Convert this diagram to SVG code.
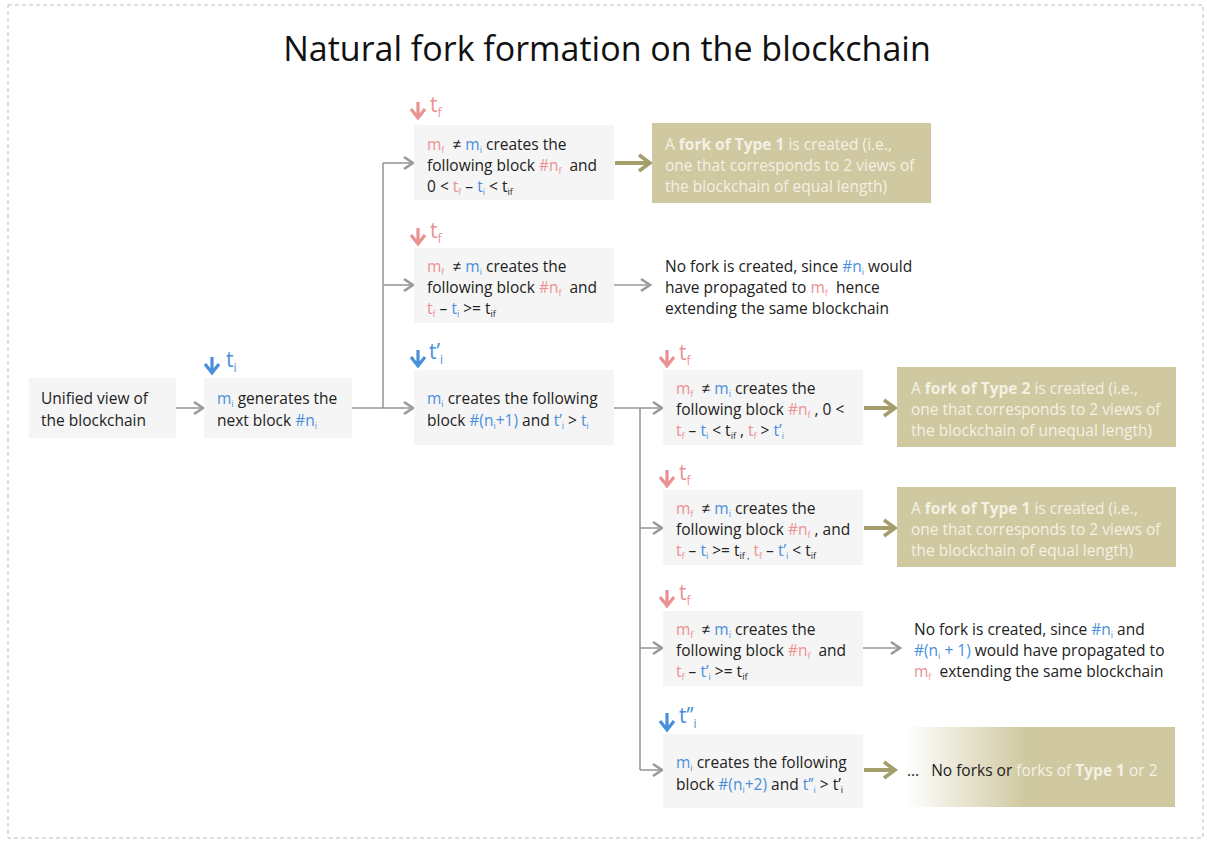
<svg xmlns="http://www.w3.org/2000/svg" width="1207" height="841" viewBox="0 0 1207 841">
<defs>
<style>
.t{font-family:"Open Sans","Liberation Sans",Arial,sans-serif;font-size:15.5px;fill:#222}
.w{fill:#f4f1e4}
.p{fill:#ec9191}
.b{fill:#4a8fdc}
.box{fill:#f5f5f5}
.tan{fill:#cfc8a0}
.con{fill:none;stroke:#9a9a9a;stroke-width:1.6}
.ol{fill:none;stroke:#a39e6a;stroke-width:4}
.tm{font-family:"Open Sans","Liberation Sans",Arial,sans-serif;font-size:21px}
.mkp{fill:none;stroke:#ec9191;stroke-width:3.2}
.mkb{fill:none;stroke:#4a8fdc;stroke-width:3.2}
</style>
<marker id="ag" markerWidth="16" markerHeight="16" refX="13" refY="8" orient="auto" markerUnits="userSpaceOnUse"><path d="M4,2 L13,8 L4,14" fill="none" stroke="#9a9a9a" stroke-width="2.6"/></marker>
<marker id="ao" markerWidth="20" markerHeight="20" refX="16" refY="10" orient="auto" markerUnits="userSpaceOnUse"><path d="M5,2 L16,10 L5,18" fill="none" stroke="#a39e6a" stroke-width="3.6"/></marker>
<linearGradient id="gr" x1="0" y1="0" x2="1" y2="0"><stop offset="0" stop-color="#ffffff"/><stop offset="0.45" stop-color="#cfc8a0"/><stop offset="1" stop-color="#cfc8a0"/></linearGradient>
</defs>
<rect x="8" y="5" width="1195" height="833" fill="#fff" stroke="#bdbdbd" stroke-width="1" stroke-dasharray="4,3"/>
<text x="607" y="61" text-anchor="middle" font-family="Open Sans,Liberation Sans,Arial,sans-serif" font-size="34" fill="#111">Natural fork formation on the blockchain</text>

<g id="connectors">
<line class="con" x1="176" y1="408" x2="203" y2="408" marker-end="url(#ag)"/>
<polyline class="con" points="352,408 383,408 383,163"/>
<line class="con" x1="383" y1="163" x2="413" y2="163" marker-end="url(#ag)"/>
<line class="con" x1="383" y1="285" x2="413" y2="285" marker-end="url(#ag)"/>
<line class="con" x1="383" y1="408" x2="413" y2="408" marker-end="url(#ag)"/>
<polyline class="con" points="614,408 640,408 640,770"/>
<line class="con" x1="640" y1="408" x2="662" y2="408" marker-end="url(#ag)"/>
<line class="con" x1="640" y1="528" x2="662" y2="528" marker-end="url(#ag)"/>
<line class="con" x1="640" y1="648" x2="662" y2="648" marker-end="url(#ag)"/>
<line class="con" x1="640" y1="770" x2="662" y2="770" marker-end="url(#ag)"/>
<line class="con" x1="614" y1="285" x2="650" y2="285" marker-end="url(#ag)"/>
<line class="con" x1="863" y1="648" x2="900" y2="648" marker-end="url(#ag)"/>
<line class="ol" x1="615" y1="163" x2="650" y2="163" marker-end="url(#ao)"/>
<line class="ol" x1="864" y1="408" x2="895" y2="408" marker-end="url(#ao)"/>
<line class="ol" x1="864" y1="528" x2="895" y2="528" marker-end="url(#ao)"/>
<line class="ol" x1="864" y1="770" x2="895" y2="770" marker-end="url(#ao)"/>
</g>

<g id="n-unified">
<rect class="box" x="29" y="378" width="147" height="60"/>
<text class="t" x="41" y="404">Unified view of</text>
<text class="t" x="41" y="426">the blockchain</text>
</g>

<g id="n-generates">
<path class="mkb" d="M212,357 V373 M205,364 L212,373 L219,364"/>
<text class="tm b" x="226" y="367">t<tspan font-size="12" dy="5">i</tspan></text>
<rect class="box" x="204" y="378" width="148" height="60"/>
<text class="t" x="217" y="404"><tspan class="b">m</tspan><tspan class="b" font-size="9" dy="3">i</tspan><tspan dy="-3"> generates the</tspan></text>
<text class="t" x="217" y="426">next block <tspan class="b">#n</tspan><tspan class="b" font-size="9" dy="3">i</tspan></text>
</g>

<g id="n-b1">
<path class="mkp" d="M418,102 V118 M411,109 L418,118 L425,109"/>
<text class="tm p" x="430" y="112">t<tspan font-size="12" dy="5">f</tspan></text>
<rect class="box" x="414" y="125" width="200" height="75"/>
<text class="t" x="427" y="150"><tspan class="p">m</tspan><tspan class="p" font-size="9" dy="3">f</tspan><tspan dy="-3">&#160; ≠ </tspan><tspan class="b">m</tspan><tspan class="b" font-size="9" dy="3">i</tspan><tspan dy="-3"> creates the</tspan></text>
<text class="t" x="427" y="171">following block <tspan class="p">#n</tspan><tspan class="p" font-size="9" dy="3">f</tspan><tspan dy="-3">&#160; and</tspan></text>
<text class="t" x="427" y="192">0 &lt; <tspan class="p">t</tspan><tspan class="p" font-size="9" dy="3">f</tspan><tspan dy="-3"> – </tspan><tspan class="b">t</tspan><tspan class="b" font-size="9" dy="3">i</tspan><tspan dy="-3"> &lt; t</tspan><tspan font-size="9" dy="3">if</tspan></text>
</g>

<g id="n-o1">
<rect class="tan" x="652" y="123" width="279" height="80"/>
<text class="t w" x="665" y="150">A <tspan font-weight="bold">fork of Type 1</tspan> is created (i.e.,</text>
<text class="t w" x="665" y="171">one that corresponds to 2 views of</text>
<text class="t w" x="665" y="192">the blockchain of equal length)</text>
</g>

<g id="n-b2">
<path class="mkp" d="M418,228 V244 M411,235 L418,244 L425,235"/>
<text class="tm p" x="430" y="238">t<tspan font-size="12" dy="5">f</tspan></text>
<rect class="box" x="414" y="248" width="200" height="75"/>
<text class="t" x="427" y="272"><tspan class="p">m</tspan><tspan class="p" font-size="9" dy="3">f</tspan><tspan dy="-3">&#160; ≠ </tspan><tspan class="b">m</tspan><tspan class="b" font-size="9" dy="3">i</tspan><tspan dy="-3"> creates the</tspan></text>
<text class="t" x="427" y="293">following block <tspan class="p">#n</tspan><tspan class="p" font-size="9" dy="3">f</tspan><tspan dy="-3">&#160; and</tspan></text>
<text class="t" x="427" y="314"><tspan class="p">t</tspan><tspan class="p" font-size="9" dy="3">f</tspan><tspan dy="-3"> – </tspan><tspan class="b">t</tspan><tspan class="b" font-size="9" dy="3">i</tspan><tspan dy="-3"> &gt;= t</tspan><tspan font-size="9" dy="3">if</tspan></text>
</g>

<g id="n-o2">
<text class="t" x="665" y="272">No fork is created, since <tspan class="b">#n</tspan><tspan class="b" font-size="9" dy="3">i</tspan><tspan dy="-3"> would</tspan></text>
<text class="t" x="665" y="293">have propagated to <tspan class="p">m</tspan><tspan class="p" font-size="9" dy="3">f</tspan><tspan dy="-3">&#160; hence</tspan></text>
<text class="t" x="665" y="314">extending the same blockchain</text>
</g>

<g id="n-b3">
<path class="mkb" d="M418,350 V366 M411,357 L418,366 L425,357"/>
<text class="tm b" x="429" y="359">t’<tspan font-size="12" dy="5">i</tspan></text>
<rect class="box" x="414" y="370" width="200" height="75"/>
<text class="t" x="427" y="404"><tspan class="b">m</tspan><tspan class="b" font-size="9" dy="3">i</tspan><tspan dy="-3"> creates the following</tspan></text>
<text class="t" x="427" y="426">block <tspan class="b">#(n</tspan><tspan class="b" font-size="9" dy="3">i</tspan><tspan class="b" dy="-3">+1)</tspan> and <tspan class="b">t’</tspan><tspan class="b" font-size="9" dy="3">i</tspan><tspan dy="-3"> &gt; </tspan><tspan class="b">t</tspan><tspan class="b" font-size="9" dy="3">i</tspan></text>
</g>

<g id="n-bA">
<path class="mkp" d="M667,350 V366 M660,357 L667,366 L674,357"/>
<text class="tm p" x="679" y="360">t<tspan font-size="12" dy="5">f</tspan></text>
<rect class="box" x="663" y="370" width="200" height="75"/>
<text class="t" x="676" y="394"><tspan class="p">m</tspan><tspan class="p" font-size="9" dy="3">f</tspan><tspan dy="-3">&#160; ≠ </tspan><tspan class="b">m</tspan><tspan class="b" font-size="9" dy="3">i</tspan><tspan dy="-3"> creates the</tspan></text>
<text class="t" x="676" y="415">following block <tspan class="p">#n</tspan><tspan class="p" font-size="9" dy="3">f</tspan><tspan dy="-3"> , 0 &lt;</tspan></text>
<text class="t" x="676" y="436"><tspan class="p">t</tspan><tspan class="p" font-size="9" dy="3">f</tspan><tspan dy="-3"> – </tspan><tspan class="b">t</tspan><tspan class="b" font-size="9" dy="3">i</tspan><tspan dy="-3"> &lt; t</tspan><tspan font-size="9" dy="3">if</tspan><tspan dy="-3"> , </tspan><tspan class="p">t</tspan><tspan class="p" font-size="9" dy="3">f</tspan><tspan dy="-3"> &gt; </tspan><tspan class="b">t’</tspan><tspan class="b" font-size="9" dy="3">i</tspan></text>
</g>

<g id="n-oA">
<rect class="tan" x="897" y="367" width="279" height="80"/>
<text class="t w" x="911" y="394">A <tspan font-weight="bold">fork of Type 2</tspan> is created (i.e.,</text>
<text class="t w" x="911" y="415">one that corresponds to 2 views of</text>
<text class="t w" x="911" y="436">the blockchain of unequal length)</text>
</g>

<g id="n-bB">
<path class="mkp" d="M667,470 V486 M660,477 L667,486 L674,477"/>
<text class="tm p" x="679" y="480">t<tspan font-size="12" dy="5">f</tspan></text>
<rect class="box" x="663" y="490" width="200" height="75"/>
<text class="t" x="676" y="514"><tspan class="p">m</tspan><tspan class="p" font-size="9" dy="3">f</tspan><tspan dy="-3">&#160; ≠ </tspan><tspan class="b">m</tspan><tspan class="b" font-size="9" dy="3">i</tspan><tspan dy="-3"> creates the</tspan></text>
<text class="t" x="676" y="535">following block <tspan class="p">#n</tspan><tspan class="p" font-size="9" dy="3">f</tspan><tspan dy="-3"> , and</tspan></text>
<text class="t" x="676" y="556"><tspan class="p">t</tspan><tspan class="p" font-size="9" dy="3">f</tspan><tspan dy="-3"> – </tspan><tspan class="b">t</tspan><tspan class="b" font-size="9" dy="3">i</tspan><tspan dy="-3"> &gt;= t</tspan><tspan font-size="9" dy="3">if ,</tspan><tspan dy="-3"> </tspan><tspan class="p">t</tspan><tspan class="p" font-size="9" dy="3">f</tspan><tspan dy="-3"> – </tspan><tspan class="b">t’</tspan><tspan class="b" font-size="9" dy="3">i</tspan><tspan dy="-3"> &lt; t</tspan><tspan font-size="9" dy="3">if</tspan></text>
</g>

<g id="n-oB">
<rect class="tan" x="897" y="487" width="279" height="80"/>
<text class="t w" x="911" y="514">A <tspan font-weight="bold">fork of Type 1</tspan> is created (i.e.,</text>
<text class="t w" x="911" y="535">one that corresponds to 2 views of</text>
<text class="t w" x="911" y="556">the blockchain of equal length)</text>
</g>

<g id="n-bC">
<path class="mkp" d="M667,590 V606 M660,597 L667,606 L674,597"/>
<text class="tm p" x="679" y="600">t<tspan font-size="12" dy="5">f</tspan></text>
<rect class="box" x="663" y="611" width="200" height="75"/>
<text class="t" x="676" y="635"><tspan class="p">m</tspan><tspan class="p" font-size="9" dy="3">f</tspan><tspan dy="-3">&#160; ≠ </tspan><tspan class="b">m</tspan><tspan class="b" font-size="9" dy="3">i</tspan><tspan dy="-3"> creates the</tspan></text>
<text class="t" x="676" y="656">following block <tspan class="p">#n</tspan><tspan class="p" font-size="9" dy="3">f</tspan><tspan dy="-3">&#160; and</tspan></text>
<text class="t" x="676" y="677"><tspan class="p">t</tspan><tspan class="p" font-size="9" dy="3">f</tspan><tspan dy="-3"> – </tspan><tspan class="b">t’</tspan><tspan class="b" font-size="9" dy="3">i</tspan><tspan dy="-3"> &gt;= t</tspan><tspan font-size="9" dy="3">if</tspan></text>
</g>

<g id="n-oC">
<text class="t" x="914" y="635">No fork is created, since <tspan class="b">#n</tspan><tspan class="b" font-size="9" dy="3">i</tspan><tspan dy="-3"> and</tspan></text>
<text class="t" x="914" y="656"><tspan class="b">#(n</tspan><tspan class="b" font-size="9" dy="3">i</tspan><tspan class="b" dy="-3"> + 1)</tspan> would have propagated to</text>
<text class="t" x="914" y="677"><tspan class="p">m</tspan><tspan class="p" font-size="9" dy="3">f</tspan><tspan dy="-3">&#160; extending the same blockchain</tspan></text>
</g>

<g id="n-bD">
<path class="mkb" d="M667,713 V730 M660,721 L667,730 L674,721"/>
<text class="tm b" x="679" y="723">t’’<tspan font-size="12" dy="5">i</tspan></text>
<rect class="box" x="663" y="734" width="200" height="74"/>
<text class="t" x="676" y="768"><tspan class="b">m</tspan><tspan class="b" font-size="9" dy="3">i</tspan><tspan dy="-3"> creates the following</tspan></text>
<text class="t" x="676" y="790">block <tspan class="b">#(n</tspan><tspan class="b" font-size="9" dy="3">i</tspan><tspan class="b" dy="-3">+2)</tspan> and <tspan class="b">t’’</tspan><tspan class="b" font-size="9" dy="3">i</tspan><tspan dy="-3"> &gt; t’</tspan><tspan font-size="9" dy="3">i</tspan></text>
</g>

<g id="n-oD">
<rect x="905" y="727" width="270" height="80" fill="url(#gr)"/>
<text class="t" x="907" y="776">…&#160;&#160; No forks or <tspan class="w">forks of </tspan><tspan class="w" font-weight="bold">Type 1</tspan><tspan class="w"> or 2</tspan></text>
</g>
</svg>
